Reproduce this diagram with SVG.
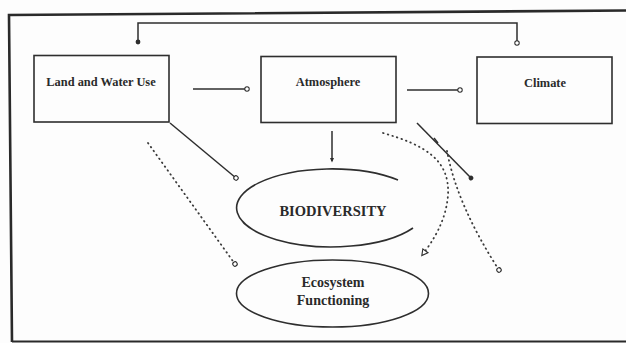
<svg xmlns="http://www.w3.org/2000/svg" width="626" height="343" viewBox="0 0 626 343">
<defs>
<style>
.box{fill:none;stroke:#2e2e2e;stroke-width:1.6}
.lbl{font-family:"Liberation Serif","Times New Roman",serif;font-weight:bold;fill:#2a2a2a;text-anchor:middle}
.ln{fill:none;stroke:#2e2e2e;stroke-width:1.5}
.dot{fill:none;stroke:#3a3a3a;stroke-width:1.8;stroke-dasharray:0.6 4.2;stroke-linecap:round}
</style>
<marker id="oc" viewBox="-4 -4 8 8" markerWidth="8" markerHeight="8" refX="0" refY="0" markerUnits="userSpaceOnUse" orient="auto">
<circle cx="0" cy="0" r="2.2" fill="#fff" stroke="#2e2e2e" stroke-width="1.1"/>
</marker>
<marker id="fd" viewBox="-4 -4 8 8" markerWidth="8" markerHeight="8" refX="0" refY="0" markerUnits="userSpaceOnUse" orient="auto">
<circle cx="0" cy="0" r="2.4" fill="#2e2e2e"/>
</marker>
<marker id="ot" viewBox="-6 -5 12 10" markerWidth="12" markerHeight="10" refX="0" refY="0" markerUnits="userSpaceOnUse" orient="auto">
<path d="M-4,-3.2 L2,0 L-4,3.2 Z" fill="#fff" stroke="#2e2e2e" stroke-width="1.1"/>
</marker>
<marker id="ft" viewBox="-5 -4 10 8" markerWidth="10" markerHeight="8" refX="0" refY="0" markerUnits="userSpaceOnUse" orient="auto">
<path d="M-3,-2 L1.5,0 L-3,2 Z" fill="#2e2e2e"/>
</marker>
</defs>
<rect width="626" height="343" fill="#fdfdfd"/>
<g id="frame">
<path d="M12,342 L9,15 L626,10.5" fill="none" stroke="#2a2a2a" stroke-width="2.6"/>
<path d="M12,341.5 L626,341.5" fill="none" stroke="#2a2a2a" stroke-width="2.2"/>
</g>
<g id="land-water-use">
<rect class="box" x="34" y="55.5" width="135" height="66.5"/>
<text class="lbl" x="101" y="85.5" font-size="12.4">Land and Water Use</text>
</g>
<g id="atmosphere">
<rect class="box" x="261" y="56.5" width="135" height="66"/>
<text class="lbl" x="328" y="86" font-size="12.4">Atmosphere</text>
</g>
<g id="climate">
<rect class="box" x="477" y="57" width="135" height="66.5"/>
<text class="lbl" x="545" y="87" font-size="12.4">Climate</text>
</g>
<g id="biodiversity">
<path class="box" d="M398,180 A95,39 0 1 0 413,228"/>
<text class="lbl" x="333" y="216" font-size="14.5">BIODIVERSITY</text>
</g>
<g id="ecosystem-functioning">
<ellipse class="box" cx="332.5" cy="293.5" rx="96" ry="33.5"/>
<text class="lbl" x="333" y="287" font-size="14">Ecosystem</text>
<text class="lbl" x="333" y="305" font-size="14">Functioning</text>
</g>
<g id="connectors">
<path class="ln" d="M138,42 L138,23 L517,23 L517,43" marker-start="url(#fd)" marker-end="url(#oc)"/>
<path class="ln" d="M193,89 L247,89" marker-end="url(#oc)"/>
<path class="ln" d="M407,90 L460,90" marker-end="url(#oc)"/>
<path class="ln" d="M332,131 L332,161" marker-end="url(#ft)"/>
<path class="ln" d="M170,123 L236,178" marker-end="url(#oc)"/>
<path class="ln" d="M417,123 L471,178" marker-end="url(#fd)"/>
<path class="ln" d="M434,138 L438,143"/>
<path class="dot" d="M148,143 L235,264" marker-end="url(#oc)"/>
<path class="dot" d="M383,133 C425,145 450,160 448,195 C446,222 432,242 423,254" marker-end="url(#ot)"/>
<path class="dot" d="M447,151 Q457,205 499,270" marker-end="url(#oc)"/>
</g>
</svg>
